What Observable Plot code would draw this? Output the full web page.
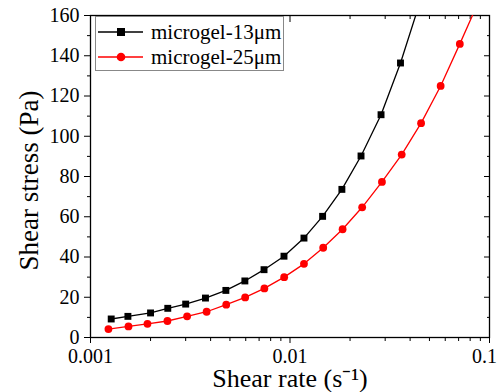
<!DOCTYPE html>
<html><head><meta charset="utf-8">
<script src="https://cdn.jsdelivr.net/npm/d3@7"></script>
<script src="https://cdn.jsdelivr.net/npm/@observablehq/plot@0.6"></script>
<style>
body{margin:0;background:#fff;}
#wrap{position:relative;width:499px;height:392px;}
#legend{position:absolute;left:95px;top:16px;}
svg text{font-family:"Liberation Serif","Times New Roman",serif;}
</style>
</head><body>
<div id="wrap"><div id="chart"></div><div id="legend"></div></div>
<script>
// Data
const seriesNames = ["microgel-13μm", "microgel-25μm"];
const seriesColors = ["#000000", "#ff0000"];
const rate13 = [0.00127, 0.00154, 0.00200, 0.00244, 0.00300, 0.00377, 0.00477, 0.00594, 0.00741, 0.00933, 0.01175, 0.01457, 0.0182, 0.0227, 0.0286, 0.0358, 0.0447];
const stress13 = [9.2, 10.5, 12.2, 14.5, 16.6, 19.6, 23.4, 28.1, 33.7, 40.4, 49.4, 60.2, 73.6, 90.2, 110.7, 136.4, 166.3];
const rate25 = [0.00123, 0.00155, 0.00193, 0.00243, 0.00305, 0.00382, 0.00479, 0.00596, 0.00744, 0.00935, 0.01175, 0.01467, 0.01835, 0.0230, 0.0289, 0.0363, 0.0454, 0.0569, 0.0710, 0.0889];
const stress25 = [4.2, 5.5, 6.8, 8.2, 10.5, 12.8, 16.3, 19.9, 24.4, 30.0, 36.6, 44.6, 53.8, 64.7, 77.3, 90.9, 106.5, 125.0, 145.9, 167.7];
const xMajor = [0.001, 0.01, 0.1];
const xTickLabels = ["0.001", "0.01", "0.1"];
const xMinor = [0.002,0.003,0.004,0.005,0.006,0.007,0.008,0.009,0.02,0.03,0.04,0.05,0.06,0.07,0.08,0.09];
const yMajor = [0, 20, 40, 60, 80, 100, 120, 140, 160];
const yMinor = [10, 30, 50, 70, 90, 110, 130, 150];
const xTitle = "Shear rate (s⁻¹)";
const yTitle = "Shear stress (Pa)";

const d13 = rate13.map((x, i) => ({x, y: stress13[i]}));
const d25 = rate25.map((x, i) => ({x, y: stress25[i]}));
const blank = () => "";
const xFmt = d => xTickLabels[xMajor.indexOf(d)];
const serif = '"Liberation Serif", "Times New Roman", serif';

const chart = Plot.plot({
  width: 499, height: 392,
  marginLeft: 90, marginRight: 10, marginTop: 15, marginBottom: 55,
  x: {type: "log", domain: [0.001, 0.1]},
  y: {domain: [0, 160]},
  style: {fontFamily: serif, fontSize: "20px", color: "black", background: "white"},
  marks: [
    Plot.axisX(xMajor, {tickSize: 6, tickFormat: blank, label: null}),
    Plot.axisX(xMajor.slice(0, 2), {tickSize: 0, tickPadding: 11, tickFormat: xFmt, label: null, fontSize: 20, fontFamily: serif}),
    Plot.axisX(xMajor.slice(2), {tickSize: 0, tickPadding: 11, dx: -5, tickFormat: xFmt, label: null, fontSize: 20, fontFamily: serif}),
    Plot.axisX(xMinor, {tickSize: 4, tickFormat: blank, label: null}),
    Plot.axisX(xMajor, {anchor: "top", tickSize: 6, dy: 6, tickFormat: blank, label: null}),
    Plot.axisX(xMinor, {anchor: "top", tickSize: 3, dy: 3, tickFormat: blank, label: null}),
    Plot.axisY(yMajor, {tickSize: 6, tickPadding: 5, label: null, fontSize: 20, fontFamily: serif}),
    Plot.axisY(yMinor, {tickSize: 3, tickFormat: blank, label: null}),
    Plot.axisY(yMajor, {anchor: "right", tickSize: 6, dx: -6, tickFormat: blank, label: null}),
    Plot.axisY(yMinor, {anchor: "right", tickSize: 3, dx: -3, tickFormat: blank, label: null}),
    Plot.frame({stroke: "black", strokeWidth: 1.3}),
    Plot.line(d13, {x: "x", y: "y", stroke: seriesColors[0], strokeWidth: 1.3, clip: true}),
    Plot.dot(d13, {x: "x", y: "y", symbol: "square", r: 3.9, fill: seriesColors[0], stroke: "none", clip: true}),
    Plot.line(d25, {x: "x", y: "y", stroke: seriesColors[1], strokeWidth: 1.3, clip: true}),
    Plot.dot(d25, {x: "x", y: "y", symbol: "circle", r: 3.9, fill: seriesColors[1], stroke: "none", clip: true}),
    Plot.text([xTitle], {frameAnchor: "bottom", dy: 49, lineAnchor: "bottom", textAnchor: "middle", fontSize: 26, fontFamily: serif}),
    Plot.text([yTitle], {frameAnchor: "left", rotate: -90, dx: -53, dy: 4, lineAnchor: "bottom", textAnchor: "middle", fontSize: 27, fontFamily: serif})
  ]
});
document.getElementById("chart").appendChild(chart);

// Legend
const lg = d3.select("#legend").append("svg").attr("width", 190).attr("height", 56);
lg.append("rect").attr("x", 0.5).attr("y", 0.5).attr("width", 188).attr("height", 54)
  .attr("fill", "white").attr("stroke", "#888").attr("stroke-width", 1);
seriesNames.forEach((name, i) => {
  const cy = 16 + i * 25;
  lg.append("line").attr("x1", 3).attr("x2", 48).attr("y1", cy).attr("y2", cy)
    .attr("stroke", seriesColors[i]).attr("stroke-width", 1.5);
  if (i === 0) {
    lg.append("rect").attr("x", 26 - 4).attr("y", cy - 4).attr("width", 8).attr("height", 8).attr("fill", seriesColors[i]);
  } else {
    lg.append("circle").attr("cx", 26).attr("cy", cy).attr("r", 4.3).attr("fill", seriesColors[i]);
  }
  lg.append("text").attr("x", 56).attr("y", cy + 7)
    .attr("font-size", 21).attr("fill", "black").text(name);
});
</script>
</body></html>
